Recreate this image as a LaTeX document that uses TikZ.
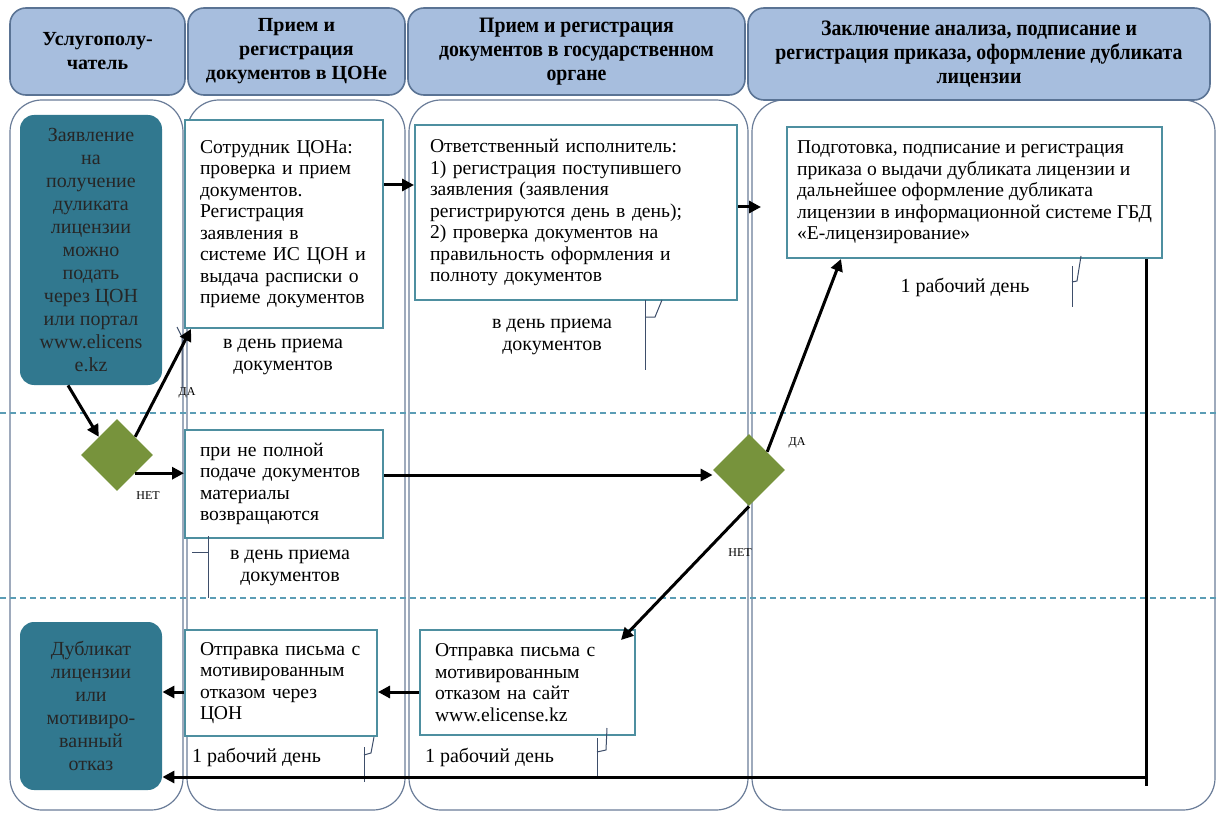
\documentclass[tikz,border=0pt]{standalone}
\usepackage{fontspec}
\setmainfont{Liberation Serif}
\newfontfamily\narrowfont[FakeStretch=0.9]{Liberation Serif}
\usetikzlibrary{shapes.geometric}
\usetikzlibrary{arrows.meta}
\definecolor{headfill}{HTML}{A7BEDE}
\definecolor{headline}{HTML}{5A7394}
\definecolor{laneline}{HTML}{6A7C98}
\definecolor{termfill}{HTML}{31788F}
\definecolor{taskline}{HTML}{4E8FA0}
\definecolor{condfill}{HTML}{77933C}
\definecolor{divline}{HTML}{5B9DB5}
\definecolor{tickline}{HTML}{3E4E6A}
\tikzset{
  head/.style= {draw=headline, fill=headfill, rounded corners=8pt, line width=0.8pt, align=center, inner sep=0, font=\bfseries\fontsize{10}{12}\selectfont},
  widehead/.style= {head, font=\narrowfont\bfseries\fontsize{11}{12}\selectfont},
  lane/.style= {draw=laneline, rounded corners=16pt, line width=0.6pt},
  term/.style= {fill=termfill, rounded corners=7pt, align=center, inner sep=0, minimum width=71pt, text=black!85, font=\fontsize{10}{11.5}\selectfont},
  task/.style= {draw=taskline, line width=1pt, fill=white, align=left, inner xsep=7.5pt, font=\fontsize{9.8}{10.75}\selectfont},
  cond/.style= {diamond, fill=condfill, minimum size=36pt, inner sep=0},
  note/.style= {align=center, font=\fontsize{10}{11}\selectfont},
  tag/.style= {font=\fontsize{6}{7}\selectfont},
  flow/.style= {line width=1.5pt, -{Triangle[length=6pt,width=6pt]}},
  tick/.style= {draw=tickline, line width=0.5pt},
  divider/.style= {draw=divline, dash pattern=on 3pt off 2pt, line width=0.6pt},
}

\begin{document}
\begin{tikzpicture}[x=0.5pt, y=-0.5pt]
  \useasboundingbox (0,0) rectangle (1217,813);

  \draw [lane] (10,100) rectangle (183,810);
  \draw [lane] (187,100) rectangle (405,810);
  \draw [lane] (409,100) rectangle (748,810);
  \draw [lane] (752,100) rectangle (1215,810);

  \node [head, minimum width=87.5pt, minimum height=43.5pt] (hcl) at (97.5,51.5) {Услугополу-\\чатель};
  \node [head, minimum width=108.5pt, minimum height=43.5pt] (hcon) at (296.5,51.5) {Прием и\\регистрация\\документов в ЦОНе};
  \node [widehead, minimum width=168.5pt, minimum height=43.5pt] (hgov) at (576.5,51.5) {Прием и регистрация\\документов в государственном\\органе};
  \node [widehead, minimum width=231pt, minimum height=46pt] (hdec) at (979,54) {Заключение анализа, подписание и\\регистрация приказа, оформление дубликата\\лицензии};

  \draw [divider] (0,413) -- (1217,413);
  \draw [divider] (0,598) -- (1217,598);

  \node [term, minimum height=135pt] (start) at (91,250) {Заявление\\на\\получение\\дуликата\\лицензии\\можно\\подать\\через ЦОН\\или портал\\www.elicens\\e.kz};
  \node [term, minimum height=84pt] (finish) at (91,706) {Дубликат\\лицензии\\или\\мотивиро-\\ванный\\отказ};

  \node [task, text width=84pt, minimum height=104pt] (recv) at (284,224) {Сотрудник ЦОНа:\\проверка и прием\\документов.\\Регистрация\\заявления в\\системе ИС ЦОН и\\выдача расписки о\\приеме документов};
  \node [task, text width=146pt, minimum height=87.5pt] (check) at (576,212.5) {Ответственный исполнитель:\\1) регистрация поступившего\\заявления (заявления\\регистрируются день в день);\\2) проверка документов на\\правильность оформления и\\полноту документов};
  \node [task, inner xsep=0, minimum width=187.5pt, minimum height=65.5pt] (order) at (974.5,192.5) {Подготовка, подписание и регистрация\\приказа о выдачи дубликата лицензии и\\дальнейшее оформление дубликата\\лицензии в информационной системе ГБД\\«Е-лицензирование»};
  \node [task, text width=84pt, minimum height=54pt] (back) at (284,484) {при не полной\\подаче документов\\материалы\\возвращаются};
  \node [task, text width=92.5pt, minimum height=52.5pt] (rejsite) at (527.5,682.5) {Отправка письма с\\мотивированным\\отказом на сайт\\www.elicense.kz};
  \node [task, text width=81pt, minimum height=53pt] (rejcon) at (281,683) {Отправка письма с\\мотивированным\\отказом через\\ЦОН};

  \node [cond] (dec1) at (117,455) {};
  \node [cond] (dec2) at (749,470) {};

  \node [note] (t1) at (283,357) {в день приема\\документов};
  \node [note] (t2) at (552,337) {в день приема\\документов};
  \node [note] (t3) at (965,287) {1 рабочий день};
  \node [note] (t4) at (290,568) {в день приема\\документов};
  \node [note, anchor=west] (t5) at (418,757) {1 рабочий день};
  \node [note, anchor=west] (t6) at (185,757) {1 рабочий день};

  \node [tag] (yes1) at (187,393) {ДА};
  \node [tag] (no1) at (148,496) {НЕТ};
  \node [tag] (yes2) at (797,443) {ДА};
  \node [tag] (no2) at (740,553) {НЕТ};

  \draw [tick] (177,327) -- (182,337) -- (182,388);
  \draw [tick] (662,300) -- (655,317) -- (645,317);
  \draw [tick] (645,300) -- (645,370);
  \draw [tick] (1081,256) -- (1077,281) -- (1072,282);
  \draw [tick] (1072,266) -- (1072,307);
  \draw [tick] (208,536) -- (208,598);
  \draw [tick] (192,552) -- (208,552);
  \draw [tick] (607,728) -- (606,750) -- (597,752);
  \draw [tick] (597,738) -- (597,777);
  \draw [tick] (374,737) -- (371,753) -- (364,755);
  \draw [tick] (364,747) -- (364,782);

  \draw [flow] ([xshift=-11.5pt]start.south) -- (dec1.north west);
  \draw [flow] (dec1.north east) -- ([xshift=3.5pt]recv.south west);
  \draw [flow] (dec1.south east) -- (dec1.south east -| back.west);
  \draw [flow] ([yshift=19.5pt]recv.east) coordinate (p1) -- (p1 -| check.west);
  \draw [flow, shorten >=12.5pt] ([yshift=2.75pt]check.east) coordinate (p2) -- (p2 -| order.west);
  \draw [flow] ([yshift=4.5pt]back.east) coordinate (p3) -- (p3 -| dec2.west);
  \draw [flow] (dec2.north east) -- ([xshift=27.5pt]order.south west);
  \draw [flow] (dec2.south) -- ([xshift=-7.5pt,yshift=-5.5pt]rejsite.north east);
  \draw [flow] ([yshift=-4.75pt]rejsite.west) coordinate (p4) -- (p4 -| rejcon.east);
  \draw [flow] ([yshift=-4.5pt]rejcon.west) coordinate (p6) -- (p6 -| finish.east);

  \coordinate (turn) at (1145,777);
  \coordinate (drop) at (1145,786);
  \draw [line width=1.5pt] ([xshift=-8.5pt]order.south east) coordinate (p5) -- (p5 |- drop);
  \draw [flow] (turn) -- (turn -| finish.east);
\end{tikzpicture}
\end{document}
